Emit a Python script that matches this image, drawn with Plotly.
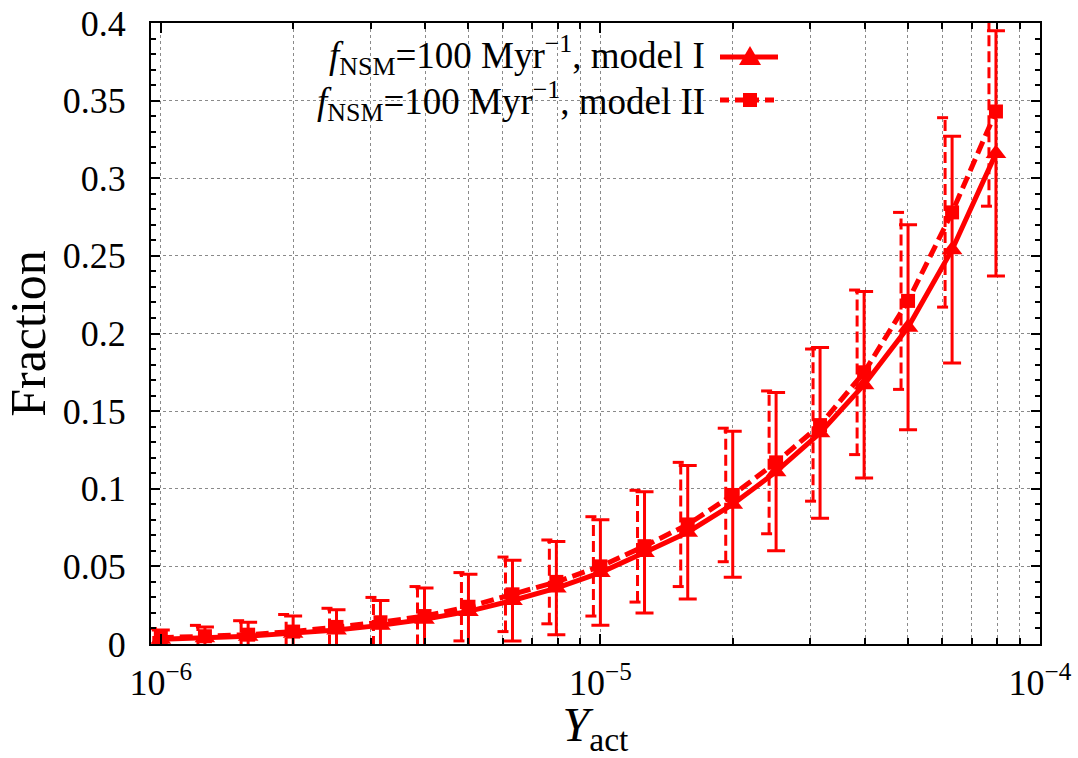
import plotly.graph_objects as go

# ---- data ----
y_act = [1.00e-6, 1.26e-6, 1.58e-6, 2.00e-6, 2.51e-6, 3.16e-6, 3.98e-6, 5.01e-6, 6.31e-6, 7.94e-6,
         1.00e-5, 1.26e-5, 1.58e-5, 2.00e-5, 2.51e-5, 3.16e-5, 3.98e-5, 5.01e-5, 6.31e-5, 7.94e-5]
frac_model1 = [0.003, 0.004, 0.005, 0.007, 0.009, 0.012, 0.016, 0.021, 0.028, 0.036,
               0.046, 0.059, 0.072, 0.090, 0.111, 0.136, 0.167, 0.204, 0.254, 0.316]
err_model1 = [0.006, 0.007, 0.009, 0.011, 0.013, 0.016, 0.020, 0.024, 0.026, 0.030,
              0.034, 0.039, 0.043, 0.047, 0.051, 0.055, 0.060, 0.066, 0.073, 0.079]
frac_model2 = [0.004, 0.005, 0.006, 0.008, 0.011, 0.014, 0.018, 0.024, 0.032, 0.040,
               0.050, 0.063, 0.077, 0.096, 0.117, 0.141, 0.175, 0.221, 0.278, 0.343]
err_model2 = [0.006, 0.007, 0.009, 0.011, 0.012, 0.016, 0.019, 0.022, 0.024, 0.027,
              0.032, 0.036, 0.040, 0.043, 0.046, 0.049, 0.053, 0.057, 0.061, 0.061]
label1 = "<i>f</i><sub>NSM</sub>=100 Myr<sup>−1</sup>, model I"
label2 = "<i>f</i><sub>NSM</sub>=100 Myr<sup>−1</sup>, model II"
x_major = [1e-6, 1e-5, 1e-4]
x_major_text = ["10<sup>−6</sup>", "10<sup>−5</sup>", "10<sup>−4</sup>"]

RED = "#ff0000"
FONT = "Liberation Serif"

# plot area in pixels
W, H = 1078, 758
L, R, T, B = 151, 38, 23, 114
PW, PH = W - L - R, H - T - B
XR = [-6.0223, -4.0]
decade_px = PW / (XR[1] - XR[0])

fig = go.Figure()

# model I: solid line, triangles, solid error bars
fig.add_trace(go.Scatter(
    x=y_act, y=frac_model1, mode="lines+markers", name=label1,
    line=dict(color=RED, width=5),
    marker=dict(symbol="triangle-up", size=18, color=RED),
    error_y=dict(type="data", array=err_model1, color=RED, thickness=3, width=9),
    showlegend=False,
))

# model II: dashed error bars (drawn slightly left of the points, as in the original)
off = 10 ** (-7 / decade_px)
cap = 10 ** (8 / decade_px)
ex, ey = [], []
for xv, yv, ev in zip(y_act, frac_model2, err_model2):
    xo = xv * off
    ex += [xo, xo, None, xo / cap, xo * cap, None, xo / cap, xo * cap, None]
    ey += [yv - ev, yv + ev, None, yv + ev, yv + ev, None, yv - ev, yv - ev, None]
fig.add_trace(go.Scatter(
    x=ex, y=ey, mode="lines", line=dict(color=RED, width=3, dash="11px,5px"),
    hoverinfo="skip", showlegend=False,
))
fig.add_trace(go.Scatter(
    x=y_act, y=frac_model2, mode="lines+markers", name=label2,
    line=dict(color=RED, width=5, dash="13px,6px"),
    marker=dict(symbol="square", size=14, color=RED),
    showlegend=False,
))

# minor tick values
x_minor = [m * d for d in (1e-6, 1e-5) for m in range(2, 10)]

axis_common = dict(
    showline=True, linecolor="black", linewidth=2, mirror="allticks",
    ticks="inside", tickcolor="black", tickwidth=2,
    showgrid=True, gridcolor="#8a8a8a", gridwidth=1, griddash="dot",
    zeroline=False,
)

fig.update_xaxes(
    type="log", range=XR,
    tickmode="array", tickvals=x_major, ticktext=x_major_text, ticklen=10,
    tickfont=dict(family=FONT, size=36, color="black"),
    minor=dict(tickmode="array", tickvals=x_minor, ticks="inside", ticklen=6,
               tickcolor="black", tickwidth=2,
               showgrid=True, gridcolor="#8a8a8a", gridwidth=1, griddash="dot"),
    title=dict(text="<i>Y</i><sub>act</sub>", font=dict(family=FONT, size=48, color="black"),
               standoff=16),
    ticklabelstandoff=6,
    **axis_common,
)
fig.update_yaxes(
    range=[0, 0.4], tick0=0, dtick=0.05, ticklen=9,
    tickfont=dict(family=FONT, size=36, color="black"),
    minor=dict(dtick=0.01, ticks="inside", ticklen=5, tickcolor="black", tickwidth=2, showgrid=False),
    title=dict(text="Fraction", font=dict(family=FONT, size=50, color="black"), standoff=6),
    ticklabelstandoff=16,
    **axis_common,
)

# legend (key on the right of text, gnuplot style)
def px(xp):
    return (xp - L) / PW

def py(yp):
    return (H - B - yp) / PH

shapes = []
annotations = []
for lab, ycen, tcen, dash in [(label1, 57, 55, "solid"), (label2, 100, 101, "dash")]:
    shapes.append(dict(type="line", xref="paper", yref="paper",
                       x0=px(720), x1=px(778), y0=py(ycen), y1=py(ycen),
                       line=dict(color=RED, width=5, dash="solid" if dash == "solid" else "9px,6px")))
    annotations.append(dict(xref="paper", yref="paper", x=px(707), y=py(tcen),
                            text=lab, showarrow=False, xanchor="right", yanchor="middle",
                            font=dict(family=FONT, size=37, color="black")))
# triangle key
shapes.append(dict(type="path", xref="paper", yref="paper",
                   path=f"M {px(739)},{py(65)} L {px(761)},{py(65)} L {px(750)},{py(46)} Z",
                   fillcolor=RED, line=dict(color=RED, width=0)))
# square key
shapes.append(dict(type="rect", xref="paper", yref="paper",
                   x0=px(743), x1=px(757), y0=py(107), y1=py(93),
                   fillcolor=RED, line=dict(color=RED, width=0)))

fig.update_layout(
    width=W, height=H,
    margin=dict(l=L, r=R, t=T, b=B, autoexpand=False),
    plot_bgcolor="white", paper_bgcolor="white",
    shapes=shapes, annotations=annotations,
    showlegend=False,
)

fig.write_html("out.html")
